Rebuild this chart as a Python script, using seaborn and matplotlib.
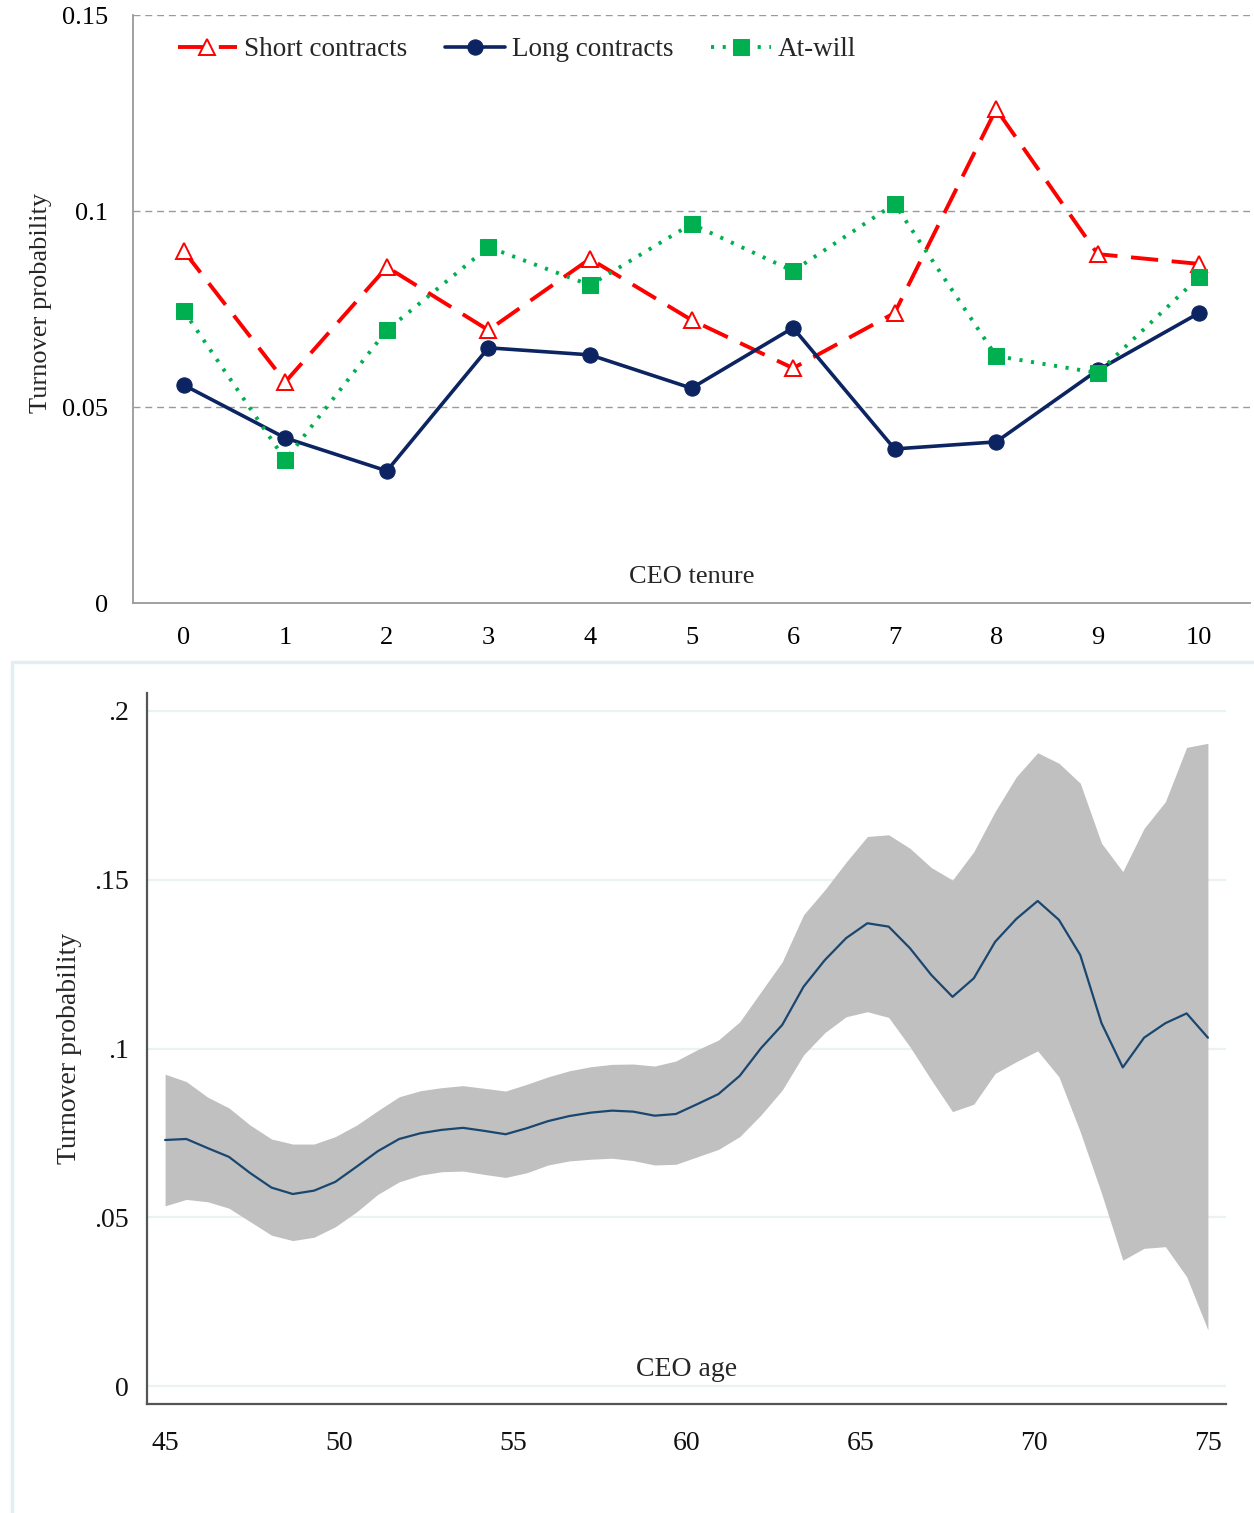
import numpy as np
import pandas as pd
import matplotlib
matplotlib.use("Agg")
import matplotlib.pyplot as plt
import matplotlib.patches as mpatches
import seaborn as sns

# ---- Panel A: turnover by CEO tenure and contract type ----
tenure = [0, 1, 2, 3, 4, 5, 6, 7, 8, 9, 10]
short_contracts = [0.0898, 0.0564, 0.0857, 0.0696, 0.0878, 0.0722,
                   0.0599, 0.0740, 0.1260, 0.0890, 0.0865]
long_contracts = [0.0556, 0.0421, 0.0337, 0.0651, 0.0633, 0.0548,
                  0.0702, 0.0393, 0.0411, 0.0594, 0.0740]
at_will = [0.0745, 0.0365, 0.0696, 0.0908, 0.0811, 0.0967,
           0.0847, 0.1018, 0.0630, 0.0587, 0.0832]
top_yticks = [0, 0.05, 0.10, 0.15]
top_yticklabels = ["0", "0.05", "0.1", "0.15"]

# ---- Panel B: turnover by CEO age with confidence band ----
ages = list(np.round(np.linspace(45, 75, 50), 3))
age_mean = [0.0729, 0.0732, 0.0705, 0.0679, 0.0631, 0.0588, 0.0569, 0.0579,
            0.0605, 0.0650, 0.0696, 0.0732, 0.0749, 0.0759, 0.0765, 0.0756,
            0.0746, 0.0764, 0.0785, 0.0800, 0.0810, 0.0816, 0.0813, 0.0801,
            0.0806, 0.0835, 0.0865, 0.0919, 0.1001, 0.1070, 0.1183, 0.1262,
            0.1327, 0.1371, 0.1361, 0.1297, 0.1218, 0.1153, 0.1208, 0.1316,
            0.1384, 0.1437, 0.1381, 0.1277, 0.1075, 0.0944, 0.1032, 0.1075,
            0.1104, 0.1032]
age_upper = [0.0924, 0.0902, 0.0856, 0.0824, 0.0773, 0.0732, 0.0717, 0.0717,
             0.0739, 0.0773, 0.0816, 0.0857, 0.0875, 0.0884, 0.0890, 0.0882,
             0.0874, 0.0894, 0.0916, 0.0934, 0.0946, 0.0953, 0.0954, 0.0948,
             0.0963, 0.0996, 0.1025, 0.1079, 0.1168, 0.1257, 0.1396, 0.1470,
             0.1552, 0.1628, 0.1633, 0.1593, 0.1536, 0.1499, 0.1583, 0.1702,
             0.1805, 0.1876, 0.1845, 0.1786, 0.1608, 0.1524, 0.1652, 0.1731,
             0.1892, 0.1904]
age_lower = [0.0534, 0.0553, 0.0546, 0.0527, 0.0487, 0.0447, 0.0431, 0.0441,
             0.0472, 0.0516, 0.0568, 0.0605, 0.0625, 0.0635, 0.0637, 0.0627,
             0.0618, 0.0632, 0.0655, 0.0667, 0.0672, 0.0675, 0.0668, 0.0655,
             0.0657, 0.0679, 0.0701, 0.0739, 0.0803, 0.0877, 0.0981, 0.1047,
             0.1094, 0.1109, 0.1092, 0.1005, 0.0907, 0.0813, 0.0835, 0.0926,
             0.0961, 0.0993, 0.0916, 0.0753, 0.0571, 0.0373, 0.0408, 0.0413,
             0.0324, 0.0166]
bottom_xticks = [45, 50, 55, 60, 65, 70, 75]
bottom_yticks = [0, 0.05, 0.10, 0.15, 0.20]
bottom_yticklabels = ["0", ".05", ".1", ".15", ".2"]

sns.set_style("white")
plt.rcParams["font.family"] = ["Liberation Serif", "DejaVu Serif"]
plt.rcParams["axes.unicode_minus"] = False

W, H = 1254, 1513
fig = plt.figure(figsize=(W / 100, H / 100), dpi=100)

# ================= Panel A =================
ax1 = fig.add_axes([133 / W, 1 - 603 / H, 1117 / W, 588 / H])
df_t = pd.DataFrame({"tenure": tenure, "short": short_contracts,
                     "long": long_contracts, "atwill": at_will})

for yv in top_yticks:
    ax1.axhline(yv, color="#9a9a9a", lw=1.0, ls=(0, (5, 3.5)), zorder=0)

sns.lineplot(data=df_t, x="tenure", y="short", ax=ax1, color="#ff0000",
             lw=2.8, linestyle=(0, (7, 3.5)), marker="^", markersize=11,
             markerfacecolor="white", markeredgecolor="#ff0000",
             markeredgewidth=1.4, label="Short contracts", zorder=3)
sns.lineplot(data=df_t, x="tenure", y="long", ax=ax1, color="#0c2461",
             lw=2.6, linestyle="-", marker="o", markersize=11,
             markerfacecolor="#0c2461", markeredgecolor="#0c2461",
             label="Long contracts", zorder=4)
sns.lineplot(data=df_t, x="tenure", y="atwill", ax=ax1, color="#00b050",
             lw=2.8, linestyle=(0, (0.8, 2.2)), marker="s", markersize=11,
             markerfacecolor="#00b050", markeredgecolor="#00b050",
             label="At-will", zorder=5)

ax1.set_xlim(-0.5, 10.5)
ax1.set_ylim(0, 0.15)
ax1.set_xticks(tenure)
ax1.set_xticks(np.arange(-0.5, 11.0, 1.0), minor=True)
ax1.set_yticks(top_yticks)
ax1.set_yticklabels(top_yticklabels)
ax1.tick_params(axis="x", which="major", length=0, pad=17.5, labelsize=19,
                labelcolor="black")
ax1.tick_params(axis="x", which="minor", length=5, width=1.2,
                color="#9a9a9a", direction="out")
ax1.tick_params(axis="y", which="major", length=5, width=1.2,
                color="#9a9a9a", direction="out", pad=13, labelsize=19,
                labelcolor="black")
for s in ["top", "right"]:
    ax1.spines[s].set_visible(False)
for s in ["left", "bottom"]:
    ax1.spines[s].set_color("#9a9a9a")
    ax1.spines[s].set_linewidth(1.3)
ax1.set_xlabel("")
ax1.set_ylabel("Turnover probability", fontsize=19)
ax1.yaxis.set_label_coords(-0.0725, 0.51)
ax1.text(0.5, 0.044, "CEO tenure", transform=ax1.transAxes,
         ha="center", va="center", fontsize=19)
leg = ax1.legend(loc="center left", bbox_to_anchor=(0.04, 0.941), ncol=3,
                 frameon=False, fontsize=19.5, handlelength=2.2,
                 handletextpad=0.25, columnspacing=1.4, borderpad=0,
                 borderaxespad=0, numpoints=1)

# ================= Panel B =================
fig.add_artist(mpatches.Rectangle((12 / W, -0.01), 1.0, 1 - 662 / H + 0.01,
                                  transform=fig.transFigure, fill=False,
                                  edgecolor="#e3eef0", lw=2.5))

ax2 = fig.add_axes([147 / W, 1 - 1404 / H, 1079 / W, 711 / H])
df_a = pd.DataFrame({"age": ages, "mean": age_mean,
                     "upper": age_upper, "lower": age_lower})

for yv in bottom_yticks:
    ax2.axhline(yv, color="#eaf2f3", lw=1.6, zorder=0)
ax2.fill_between(df_a["age"], df_a["lower"], df_a["upper"],
                 color="#c0c0c0", lw=0, zorder=1)
sns.lineplot(data=df_a, x="age", y="mean", ax=ax2, color="#1a476f",
             lw=1.6, zorder=2)

ax2.set_xlim(44.48, 75.52)
ax2.set_ylim(-0.0053, 0.2053)
ax2.set_xticks(bottom_xticks)
ax2.set_yticks(bottom_yticks)
ax2.set_yticklabels(bottom_yticklabels)
ax2.tick_params(axis="both", length=7, width=1.4, color="#555555",
                direction="out", labelsize=20, labelcolor="#111111")
ax2.tick_params(axis="x", pad=12.5)
ax2.tick_params(axis="y", pad=6)
for s in ["top", "right"]:
    ax2.spines[s].set_visible(False)
for s in ["left", "bottom"]:
    ax2.spines[s].set_color("#555555")
    ax2.spines[s].set_linewidth(1.6)
ax2.set_xlabel("")
ax2.set_ylabel("Turnover probability", fontsize=20)
ax2.yaxis.set_label_coords(-0.060, 0.50)
ax2.text(0.5, 0.048, "CEO age", transform=ax2.transAxes,
         ha="center", va="center", fontsize=20)

fig.savefig("out.png", dpi=100)
